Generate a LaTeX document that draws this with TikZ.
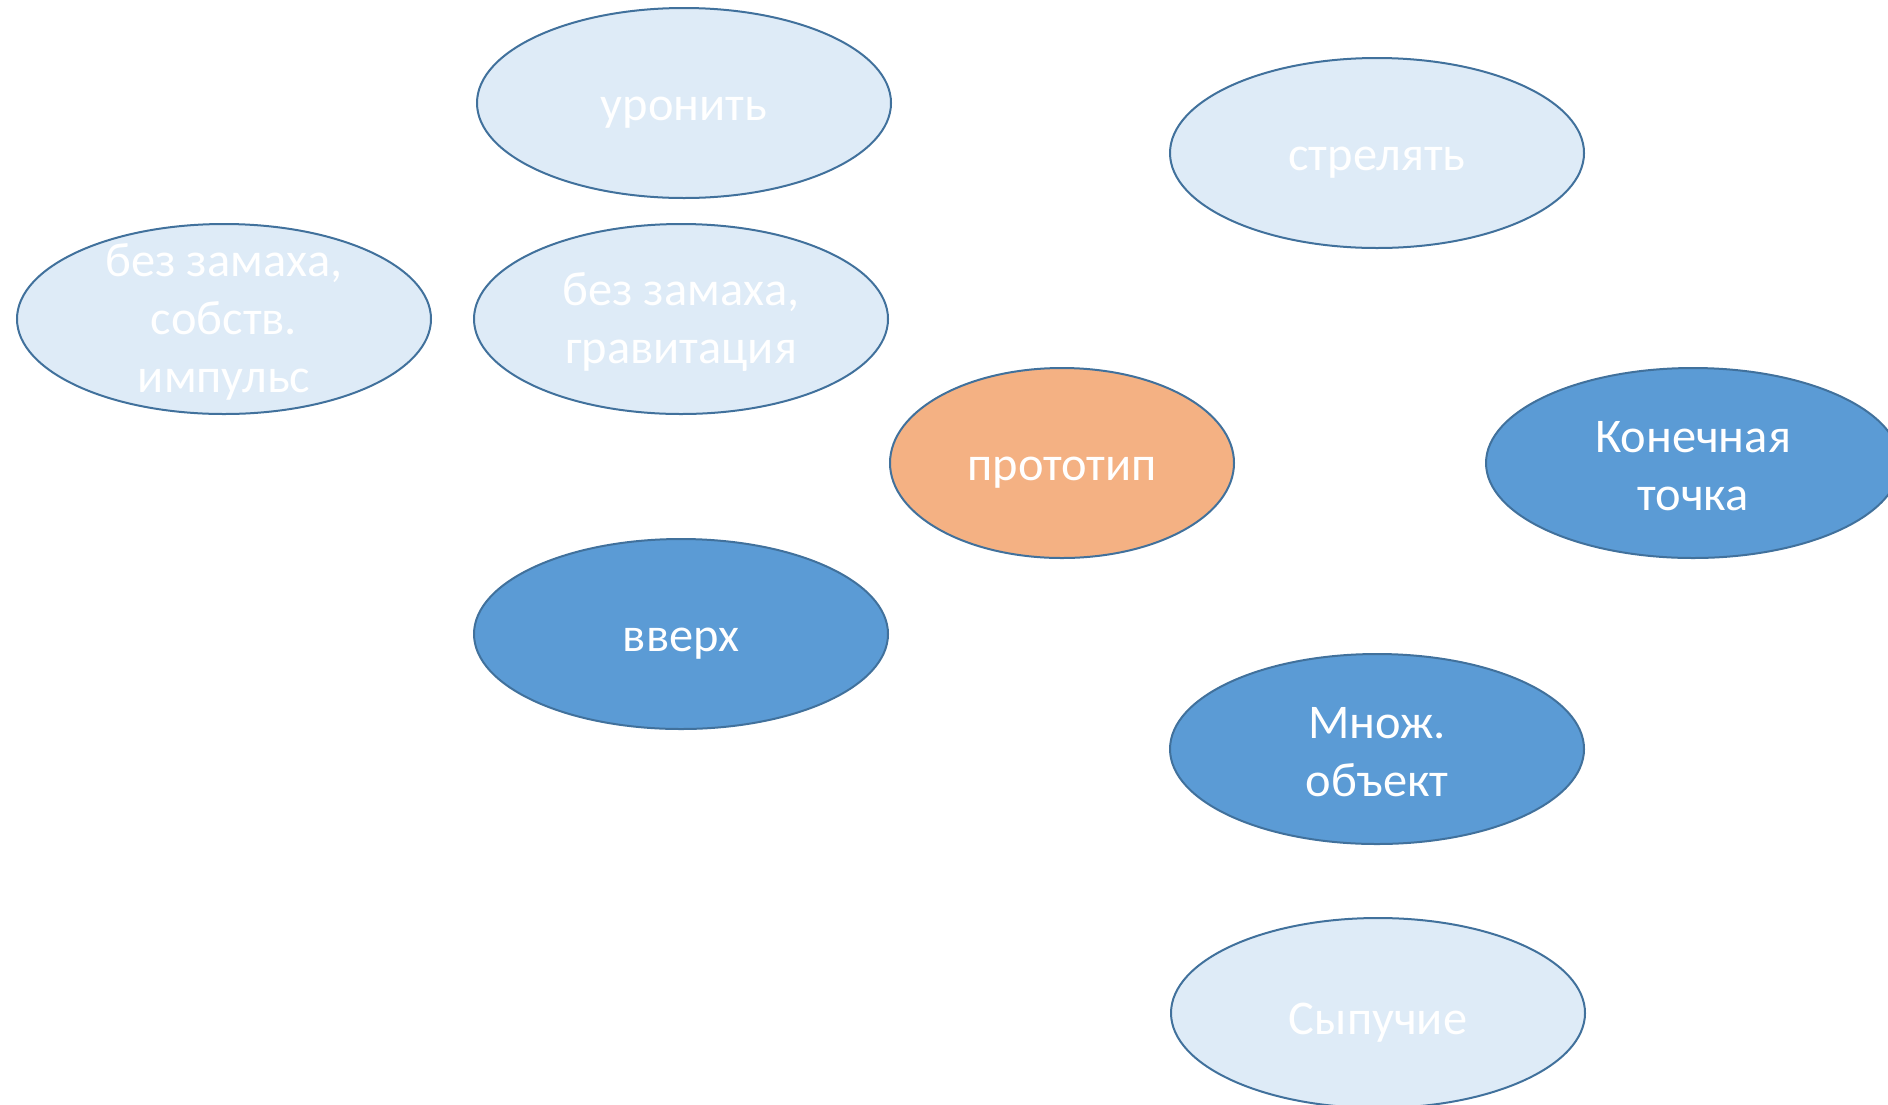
\documentclass[tikz,border=0pt]{standalone}
\usepackage{fontspec}
\setmainfont{Carlito}
\usetikzlibrary{shapes.geometric}
\definecolor{lightfill}{HTML}{DEEBF7}
\definecolor{darkfill}{HTML}{5B9BD5}
\definecolor{orangefill}{HTML}{F4B183}
\definecolor{edgeblue}{HTML}{41719C}
\tikzset{
  ell/.style={ellipse, draw=edgeblue, line width=1pt, inner sep=0pt,
    minimum width=207pt, minimum height=95pt},
  light/.style={ell, fill=lightfill},
  dark/.style={ell, fill=darkfill},
  proto/.style={ell, fill=orangefill, minimum width=172pt},
  txt/.style={text=white, align=center, font=\fontsize{24.2}{29}\selectfont, inner sep=0pt},
  one/.style={txt, yshift=-5pt},
  multi/.style={txt, yshift=-1.5pt}
}
\begin{document}
\begin{tikzpicture}[x=0.5pt,y=-0.5pt]
\useasboundingbox (0,0) rectangle (1888,1104);
\clip (0,0) rectangle (1888,1104);
\node[light] (drop) at (684,103) {};
\node[one] at (drop) {уронить};
\node[light] (shoot) at (1377,153) {};
\node[one] at (shoot) {стрелять};
\node[light] (own) at (224,319) {};
\node[multi] at (own) {без замаха,\\собств.\\импульс};
\node[light] (grav) at (681,319) {};
\node[multi] at (grav) {без замаха,\\гравитация};
\node[proto] (proto) at (1062,463) {};
\node[one] at (proto) {прототип};
\node[dark] (end) at (1693,463) {};
\node[multi] at (end) {Конечная\\точка};
\node[dark] (up) at (681,634) {};
\node[one] at (up) {вверх};
\node[dark] (multiobj) at (1377,749) {};
\node[multi] at (multiobj) {Множ.\\объект};
\node[light] (bulk) at (1378,1013) {};
\node[one] at (bulk) {Сыпучие};
\end{tikzpicture}
\end{document}
